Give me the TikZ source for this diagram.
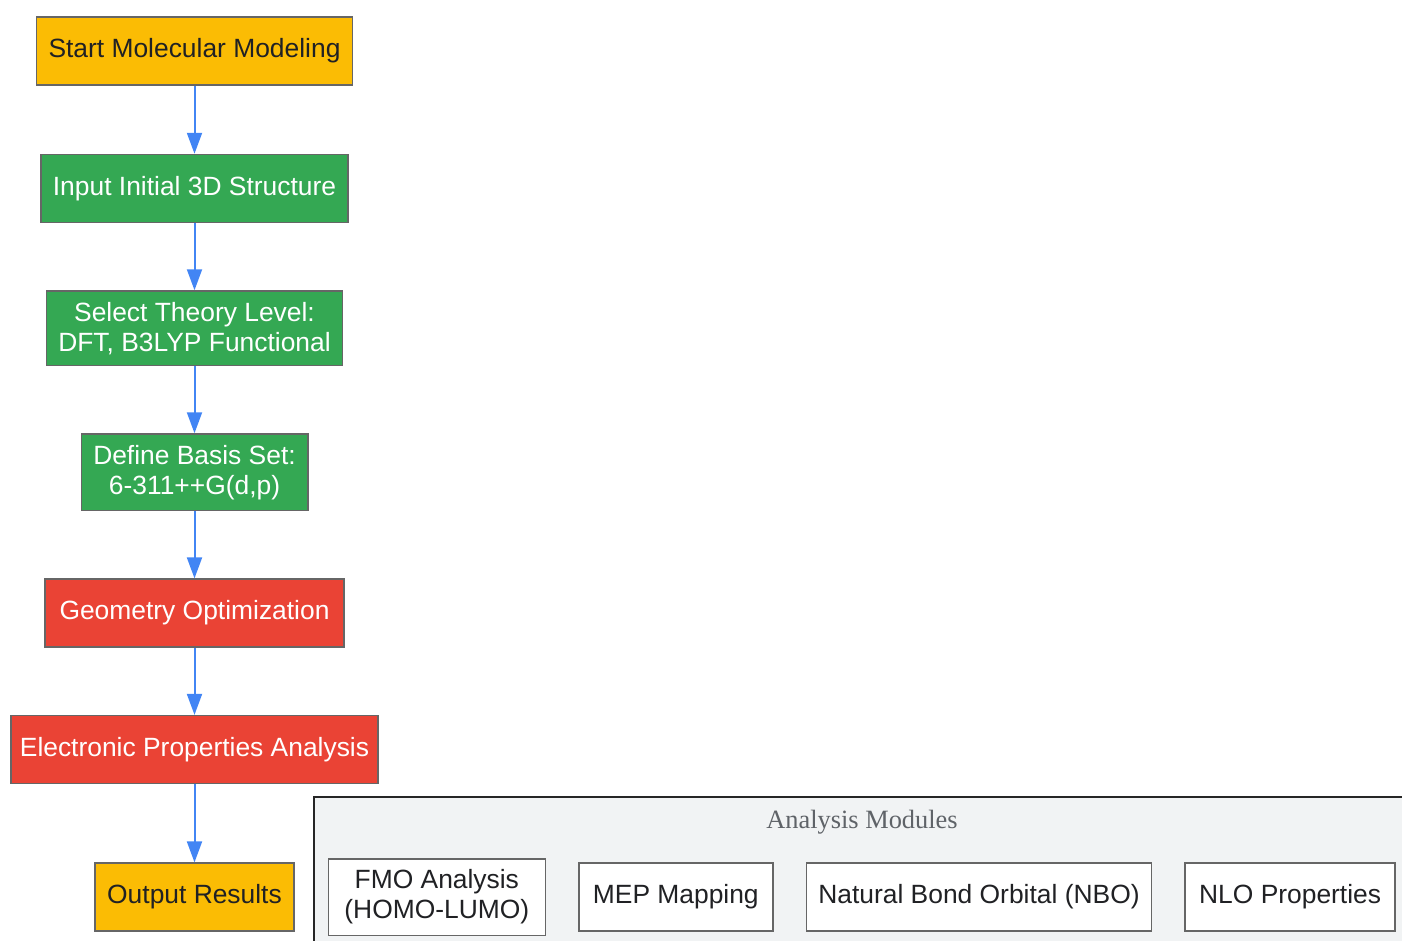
\documentclass[tikz,border=0pt]{standalone}
\usepackage{fontspec}
\setmainfont{Liberation Sans}
\newfontfamily\clusterfont{Liberation Serif}
\usetikzlibrary{arrows.meta,positioning}
\definecolor{gyellow}{HTML}{FBBC04}
\definecolor{ggreen}{HTML}{34A853}
\definecolor{gred}{HTML}{EA4335}
\definecolor{gblue}{HTML}{4285F4}
\definecolor{gdark}{HTML}{202124}
\definecolor{boxgray}{HTML}{666666}
\definecolor{clusterfill}{HTML}{F1F3F4}
\definecolor{titlegray}{HTML}{5F6368}
\tikzset{
	auto, semithick,
	flow/.style = {-{Triangle[length=21pt,width=15pt]}, draw=gblue, line width=2pt}
}

\begin{document}
\begin{tikzpicture}[x=1pt,y=-1pt,node distance=68pt]
            \tikzstyle{block} = [draw=boxgray, line width=1.5pt, rectangle,
                minimum height=68pt, inner xsep=12pt, inner ysep=11pt,
                align=center, font=\fontsize{26.4}{30}\selectfont]
            \tikzstyle{terminal} = [block, fill=gyellow, text=gdark]
            \tikzstyle{setup} = [block, fill=ggreen, text=white]
            \tikzstyle{calc} = [block, fill=gred, text=white]
            \tikzstyle{module} = [block, fill=white, text=gdark]
            \useasboundingbox (0,0) rectangle (1402,940);
            \clip (0,0) rectangle (1402,940);
            % analysis modules cluster
            \draw [fill=clusterfill, draw=black!85, line width=1.5pt] (314,797) rectangle (1410,975);
            \node [font=\clusterfont\fontsize{26.4}{30}\selectfont, text=titlegray] (modtitle) at (862,822) {Analysis Modules};

            \node [terminal] (start) at (194.5,51) {Start Molecular Modeling};
            \node [setup, below=of start] (init) {Input Initial 3D Structure};
            \node [setup, below=67pt of init] (theory) {Select Theory Level:\\DFT, B3LYP Functional};
            \node [setup, below=67pt of theory] (basis) {Define Basis Set:\\6-311++G(d,p)};
            \node [calc, below=67pt of basis, minimum width=299pt] (geomopt) {Geometry Optimization};
            \node [calc, below=67pt of geomopt, inner xsep=9pt] (elec) {Electronic Properties Analysis};
            \node [terminal, below=78pt of elec] (output) {Output Results};

            \node [module, right=33pt of output, minimum width=217pt] (fmo) {FMO Analysis\\(HOMO-LUMO)};
            \node [module, right=32pt of fmo, minimum width=194pt] (mep) {MEP Mapping};
            \node [module, right=32pt of mep] (nbo) {Natural Bond Orbital (NBO)};
            \node [module, right=32pt of nbo, minimum width=210pt] (nlo) {NLO Properties};

            \draw [flow] (start) -- (init);
            \draw [flow] (init) -- (theory);
            \draw [flow] (theory) -- (basis);
            \draw [flow] (basis) -- (geomopt);
            \draw [flow] (geomopt) -- (elec);
            \draw [flow] (elec) -- (output);
        \end{tikzpicture}
\end{document}
